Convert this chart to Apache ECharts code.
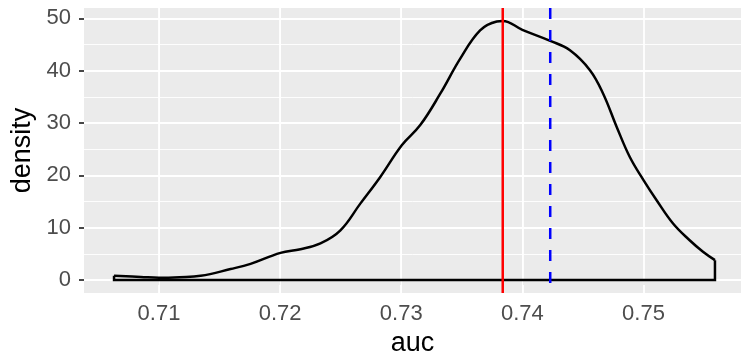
<!DOCTYPE html>
<html>
<head>
<meta charset="utf-8">
<script src="https://cdn.jsdelivr.net/npm/echarts@6/dist/echarts.min.js"></script>
<style>
  html, body { margin: 0; padding: 0; background: #fff; }
  #chart { width: 741px; height: 359px; }
</style>
</head>
<body>
<div id="chart"></div>
<script>
// density estimate
const aucX = [0.70629, 0.7085, 0.71, 0.7117, 0.71344, 0.71591, 0.71756, 0.72003, 0.72168, 0.72333,
  0.72498, 0.72662, 0.72827, 0.73006, 0.73157, 0.73322, 0.73487, 0.73651, 0.73789, 0.73838,
  0.74, 0.7423, 0.74393, 0.74558, 0.74667, 0.74778, 0.74887, 0.75, 0.75107, 0.75244,
  0.75381, 0.75491, 0.7559];
const densityY = [0.8, 0.6, 0.45, 0.55, 0.8, 2.1, 3.1, 5.2, 5.9, 7.0,
  9.5, 14.6, 19.7, 25.8, 29.6, 35.6, 42.3, 47.7, 49.4, 49.5,
  47.8, 45.7, 43.9, 40.1, 35.6, 29.3, 23.5, 19.1, 15.3, 10.8,
  7.6, 5.4, 3.8];
const redLineX = [0.73838];
const blueLineX = [0.7423];

const xBreaks = [0.71, 0.72, 0.73, 0.74, 0.75];
const xMinor = [0.705, 0.715, 0.725, 0.735, 0.745, 0.755];
const yBreaks = [0, 10, 20, 30, 40, 50];
const yMinor = [5, 15, 25, 35, 45];

const xRange = [0.70381, 0.75805];
const yRange = [-2.475, 51.975];

const chart = echarts.init(document.getElementById("chart"));

const curve = aucX.map((x, i) => [x, densityY[i]]);
const last = aucX.length - 1;
const closing = [
  [aucX[last], densityY[last]],
  [aucX[last], 0],
  [aucX[0], 0],
  [aucX[0], densityY[0]],
];

const tickFont = { fontFamily: "Liberation Sans", fontSize: 22, color: "#4D4D4D" };
const titleFont = { fontFamily: "Liberation Sans", fontSize: 27, color: "#000" };

// gridlines go through a background series so they sit under the curve
const gridLine = (axis, v, width) => ({ [axis]: v, lineStyle: { color: "#fff", width, type: "solid" } });

chart.setOption({
  animation: false,
  grid: {
    left: 84, right: 0, top: 8, bottom: 66,
    outerBoundsMode: "none",
    show: true, backgroundColor: "#EBEBEB", borderWidth: 0,
  },
  xAxis: {
    type: "value",
    min: xRange[0],
    max: xRange[1],
    splitNumber: 5,
    name: "auc",
    nameLocation: "middle",
    nameGap: 36,
    nameTextStyle: titleFont,
    axisLine: { show: false },
    axisTick: { show: true, length: 5, customValues: xBreaks, lineStyle: { color: "#333", width: 1.8 } },
    axisLabel: { ...tickFont, margin: 10, customValues: xBreaks, formatter: (v) => v.toFixed(2) },
    splitLine: { show: false },
  },
  yAxis: {
    type: "value",
    min: yRange[0],
    max: yRange[1],
    splitNumber: 5,
    name: "density",
    nameLocation: "middle",
    nameGap: 48,
    nameRotate: 90,
    nameTextStyle: titleFont,
    axisLine: { show: false },
    axisTick: { show: true, length: 5, customValues: yBreaks, lineStyle: { color: "#333", width: 1.8 } },
    axisLabel: { ...tickFont, margin: 13, customValues: yBreaks },
    splitLine: { show: false },
  },
  series: [
    {
      type: "line",
      data: [],
      z: 1,
      silent: true,
      markLine: {
        silent: true,
        z: 1,
        symbol: "none",
        label: { show: false },
        data: [
          ...xMinor.map((v) => gridLine("xAxis", v, 0.9)),
          ...yMinor.map((v) => gridLine("yAxis", v, 0.9)),
          ...xBreaks.map((v) => gridLine("xAxis", v, 1.8)),
          ...yBreaks.map((v) => gridLine("yAxis", v, 1.8)),
        ],
      },
    },
    {
      type: "line",
      data: curve,
      smooth: 0.4,
      showSymbol: false,
      lineStyle: { color: "#000", width: 2.5 },
      z: 3,
    },
    {
      type: "line",
      data: closing,
      showSymbol: false,
      lineStyle: { color: "#000", width: 2.5, join: "miter" },
      z: 3,
    },
    {
      type: "line",
      data: [[redLineX[0], yRange[1]], [redLineX[0], yRange[0]]],
      showSymbol: false,
      lineStyle: { color: "#FF0000", width: 2.5 },
      z: 4,
    },
    {
      type: "line",
      data: [[blueLineX[0], yRange[1]], [blueLineX[0], yRange[0]]],
      showSymbol: false,
      lineStyle: { color: "#0000FF", width: 2.5, type: [11, 11] },
      z: 4,
    },
  ],
});
</script>
</body>
</html>
